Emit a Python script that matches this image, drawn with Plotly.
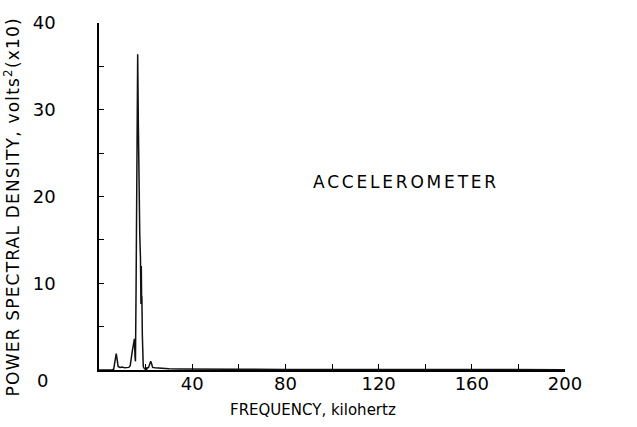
import plotly.graph_objects as go

# Frequency (kHz) and power spectral density (volts^2, x10)
freq_khz = [0, 5.5, 6.3, 6.8, 7.1, 7.4, 7.8, 8.2, 9.0, 10.0, 11.0, 12.0, 12.8, 13.4,
            13.9, 14.3, 14.7, 15.0, 15.2, 15.45, 15.65, 15.9, 16.2, 16.45, 16.6, 16.9,
            17.2, 17.5, 17.8, 17.9, 17.95, 18.0, 18.05, 18.1, 18.15, 18.2, 18.25, 18.3,
            18.35, 18.4, 18.6, 18.8, 19.0, 19.4, 19.9, 20.3, 20.5, 20.8, 21.3, 21.8,
            22.2, 22.6, 23.0, 24.0, 26.0, 30.0, 35.0, 40.0, 50.0, 60.0, 80.0, 100.0,
            120.0, 140.0, 160.0, 180.0, 200.0]
psd = [0.0, 0.0, 0.1, 0.8, 1.6, 1.9, 1.2, 0.4, 0.3, 0.35, 0.25, 0.3, 0.3, 0.5,
       1.2, 2.2, 2.8, 3.3, 3.6, 1.6, 1.0, 9.0, 24.0, 33.0, 36.4, 28.0,
       20.0, 15.5, 12.9, 8.5, 12.8, 7.6, 12.5, 7.8, 12.0, 8.0, 11.5, 7.7,
       10.5, 8.5, 4.0, 1.5, 0.4, 0.2, 0.1, -0.5, 0.3, 0.2, 0.3, 0.8,
       1.0, 0.7, 0.3, 0.25, 0.2, 0.15, 0.12, 0.1, 0.1, 0.08, 0.06, 0.05,
       0.05, 0.05, 0.04, 0.04, 0.04]

x_tickvals = [0, 20, 40, 60, 80, 100, 120, 140, 160, 180, 200]
x_ticktext = ["", "", "40", "", "80", "", "120", "", "160", "", "200"]
y_tickvals = [0, 5, 10, 15, 20, 25, 30, 35, 40]
y_ticktext = ["", "", "10", "", "20", "", "30", "", "40"]

FONT = "DejaVu Sans"

fig = go.Figure()
fig.add_trace(go.Scatter(x=freq_khz, y=psd, mode="lines",
                         line=dict(color="#111111", width=1.5),
                         showlegend=False, hoverinfo="skip"))

fig.update_layout(
    width=637, height=427,
    margin=dict(l=99, r=72, t=20, b=57),
    paper_bgcolor="white", plot_bgcolor="white",
    font=dict(family=FONT, color="black", size=18),
    xaxis=dict(range=[0, 200], tickvals=x_tickvals, ticktext=x_ticktext,
               ticks="inside", ticklen=6, tickwidth=1.2, tickcolor="black",
               showline=True, linecolor="black", linewidth=1.5,
               showgrid=False, zeroline=False, tickfont=dict(size=18),
               ticklabelstandoff=-3),
    yaxis=dict(range=[0, 40], tickvals=y_tickvals, ticktext=y_ticktext,
               ticks="inside", ticklen=5, tickwidth=1.2, tickcolor="black",
               showline=True, linecolor="black", linewidth=1.5,
               showgrid=False, zeroline=False, tickfont=dict(size=18),
               ticklabelstandoff=38),
)

fig.add_annotation(text="0", xref="paper", yref="paper",
                   x=(42 - 99) / 466, y=(370 - 381) / 350,
                   xanchor="center", yanchor="middle", showarrow=False,
                   font=dict(size=18, family=FONT))
fig.add_annotation(text="<span style='letter-spacing:1.2px'>POWER SPECTRAL DENSITY, volts<sup>2</sup>(x10)</span>",
                   xref="paper", yref="paper",
                   x=(12 - 99) / 466, y=(370 - 206) / 350, textangle=-90,
                   xanchor="center", yanchor="middle", showarrow=False,
                   font=dict(size=17, family=FONT))
fig.add_annotation(text="FREQUENCY, kilohertz", xref="paper", yref="paper",
                   x=(313 - 99) / 466, y=(370 - 410) / 350,
                   xanchor="center", yanchor="middle", showarrow=False,
                   font=dict(size=15, family=FONT))
fig.add_annotation(text="<span style='letter-spacing:2.8px'>ACCELEROMETER</span>",
                   xref="paper", yref="paper",
                   x=(406 - 99) / 466, y=(370 - 180) / 350,
                   xanchor="center", yanchor="middle", showarrow=False,
                   font=dict(size=17, family=FONT))

fig.write_html("out.html")
